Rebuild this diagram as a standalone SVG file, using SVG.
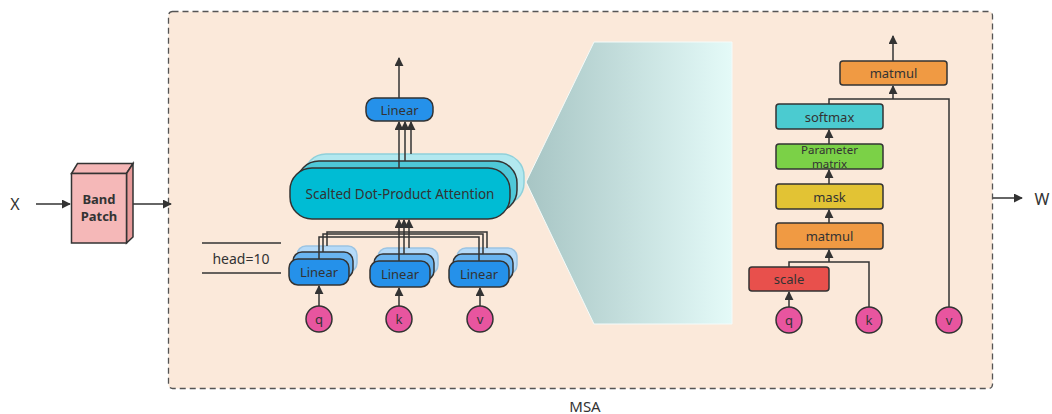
<svg xmlns="http://www.w3.org/2000/svg" width="1052" height="414" viewBox="0 0 1052 414">
<defs>
<marker id="ah" viewBox="0 0 10 10" refX="9" refY="5" markerWidth="9" markerHeight="9" markerUnits="userSpaceOnUse" orient="auto">
<path d="M0,0 L10,5 L0,10 z" fill="#333"/>
</marker>
<linearGradient id="fan" x1="0" y1="0" x2="1" y2="0">
<stop offset="0" stop-color="#a7c5c4"/>
<stop offset="1" stop-color="#e4faf8"/>
</linearGradient>
<style>
text{font-family:"Noto Sans","Open Sans","Liberation Sans",sans-serif;fill:#333;text-anchor:middle;dominant-baseline:central}
.c{fill:none;stroke:#333;stroke-width:1.5}
.a{fill:none;stroke:#333;stroke-width:1.5;marker-end:url(#ah)}
.b{stroke:#333;stroke-width:1.5}
.lin{fill:#2591ea}
.lin2{fill:#69b4f0}
.lin3{fill:#b5daf8;stroke:#9cc4e2}
.circ{fill:#e8559f;stroke:#333;stroke-width:1.5}
.t13{font-size:13px}
</style>
</defs>

<g id="msa">
<rect x="168.5" y="11.5" width="824" height="377" rx="4" fill="#fbe9da" stroke="#555" stroke-width="1.3" stroke-dasharray="6,4"/>
<text x="585" y="406" font-size="15">MSA</text>
</g>

<g id="x-label"><text x="15" y="204" font-size="16">X</text></g>
<g id="w-label"><text x="1042" y="199" font-size="16">W</text></g>

<g id="band-patch">
<polygon points="71.5,173.5 77.5,163.5 133,163.5 126.5,173.5" fill="#f4b6b6" class="b"/>
<polygon points="126.5,173.5 133,163.5 133,237 126.5,243" fill="#e79a9a" class="b"/>
<rect x="71.5" y="173.5" width="55" height="69.5" fill="#f5b8b8" class="b"/>
<text x="99" y="199" font-size="13" font-weight="bold">Band</text>
<text x="99" y="216" font-size="13" font-weight="bold">Patch</text>
</g>

<g id="fan-shape">
<polygon points="526,182 594,42 732,42 732,324 594,324" fill="url(#fan)" stroke="#f4fbfa" stroke-width="1"/>
</g>

<g id="head-label">
<line x1="202" y1="243" x2="281" y2="243" class="c"/>
<line x1="202" y1="273" x2="281" y2="273" class="c"/>
<text x="241" y="258" font-size="14">head=10</text>
</g>

<g id="sdpa">
<rect x="304" y="154" width="220" height="51" rx="22" fill="#b2e8ef" stroke="#8fd0da" stroke-width="1.5"/>
<rect x="297" y="161" width="220" height="51" rx="22" fill="#4fc8d8" class="b"/>
<rect x="290" y="168" width="220" height="51" rx="22" fill="#00bcd4" class="b"/>
<text x="400" y="194" font-size="13.5">Scalted Dot-Product Attention</text>
</g>

<g id="linear-out">
<rect x="366" y="98" width="67" height="23" rx="9" class="lin b"/>
<text x="399.5" y="110" class="t13">Linear</text>
</g>

<g id="linear-q">
<rect x="297" y="246" width="60" height="26" rx="9" class="lin3" stroke-width="1.5"/>
<rect x="293" y="252" width="60" height="26" rx="9" class="lin2 b"/>
<rect x="289" y="259" width="60" height="26" rx="9" class="lin b"/>
<text x="319" y="272" class="t13">Linear</text>
</g>
<g id="linear-k">
<rect x="378" y="248" width="60" height="26" rx="9" class="lin3" stroke-width="1.5"/>
<rect x="374" y="254" width="60" height="26" rx="9" class="lin2 b"/>
<rect x="370" y="261" width="60" height="26" rx="9" class="lin b"/>
<text x="400" y="274" class="t13">Linear</text>
</g>
<g id="linear-v">
<rect x="457" y="248" width="60" height="26" rx="9" class="lin3" stroke-width="1.5"/>
<rect x="453" y="254" width="60" height="26" rx="9" class="lin2 b"/>
<rect x="449" y="261" width="60" height="26" rx="9" class="lin b"/>
<text x="479" y="274" class="t13">Linear</text>
</g>

<g id="q1"><circle cx="319" cy="319" r="13" class="circ"/><text x="319" y="319" class="t13">q</text></g>
<g id="k1"><circle cx="399" cy="319" r="13" class="circ"/><text x="399" y="319" class="t13">k</text></g>
<g id="v1"><circle cx="480" cy="319" r="13" class="circ"/><text x="480" y="319" class="t13">v</text></g>

<g id="matmul-top"><rect x="840" y="61" width="107" height="24" rx="3" fill="#f09a43" class="b"/><text x="893.5" y="73" class="t13">matmul</text></g>
<g id="softmax"><rect x="776" y="104" width="107" height="25" rx="3" fill="#4bcbd0" class="b"/><text x="829.5" y="116.5" class="t13">softmax</text></g>
<g id="param"><rect x="776" y="144" width="107" height="25" rx="3" fill="#7bd147" class="b"/><text x="829.5" y="149.5" font-size="11.5">Parameter</text><text x="829.5" y="163.5" font-size="11.5">matrix</text></g>
<g id="mask"><rect x="776" y="184" width="107" height="25" rx="3" fill="#e2c334" class="b"/><text x="829.5" y="196.5" class="t13">mask</text></g>
<g id="matmul-bot"><rect x="776" y="223" width="107" height="26" rx="3" fill="#f09a43" class="b"/><text x="829.5" y="236" class="t13">matmul</text></g>
<g id="scale"><rect x="749" y="267" width="80" height="24" rx="3" fill="#e8504c" class="b"/><text x="789" y="279" class="t13">scale</text></g>

<g id="q2"><circle cx="789" cy="320" r="13" class="circ"/><text x="789" y="320" class="t13">q</text></g>
<g id="k2"><circle cx="869" cy="320" r="13" class="circ"/><text x="869" y="320" class="t13">k</text></g>
<g id="v2"><circle cx="949" cy="320" r="13" class="circ"/><text x="949" y="320" class="t13">v</text></g>

<g id="connectors">
<line x1="36" y1="204" x2="70" y2="204" class="a"/>
<line x1="133" y1="204" x2="171" y2="204" class="a"/>
<line x1="993" y1="198" x2="1022" y2="198" class="a"/>

<line x1="399" y1="98" x2="399" y2="58" class="a"/>
<line x1="399" y1="168" x2="399" y2="122" class="a"/>
<line x1="405" y1="161" x2="405" y2="122" class="a"/>
<line x1="411" y1="154" x2="411" y2="122" class="a"/>

<polyline points="319,259 319,237 399,237 399,220" class="a"/>
<polyline points="323,252 323,234 404,234 404,220" class="a"/>
<polyline points="327,246 327,232 409,232 409,220" class="a"/>
<line x1="399" y1="261" x2="399" y2="237" class="c"/>
<line x1="404" y1="254" x2="404" y2="234" class="c"/>
<line x1="409" y1="248" x2="409" y2="232" class="c"/>
<polyline points="479,261 479,237 399,237" class="c"/>
<polyline points="483,254 483,234 404,234" class="c"/>
<polyline points="487,248 487,232 409,232" class="c"/>

<line x1="319" y1="306" x2="319" y2="286" class="a"/>
<line x1="399" y1="306" x2="399" y2="288" class="a"/>
<line x1="480" y1="306" x2="480" y2="288" class="a"/>

<line x1="893" y1="61" x2="893" y2="36" class="a"/>
<polyline points="829,104 829,99 949,99 949,307" class="c"/>
<line x1="893" y1="99" x2="893" y2="86" class="a"/>
<line x1="829" y1="144" x2="829" y2="130" class="a"/>
<line x1="829" y1="184" x2="829" y2="170" class="a"/>
<line x1="829" y1="223" x2="829" y2="210" class="a"/>
<polyline points="789,267 789,262 869,262 869,307" class="c"/>
<line x1="829" y1="262" x2="829" y2="250" class="a"/>
<line x1="789" y1="307" x2="789" y2="292" class="a"/>
</g>
</svg>
